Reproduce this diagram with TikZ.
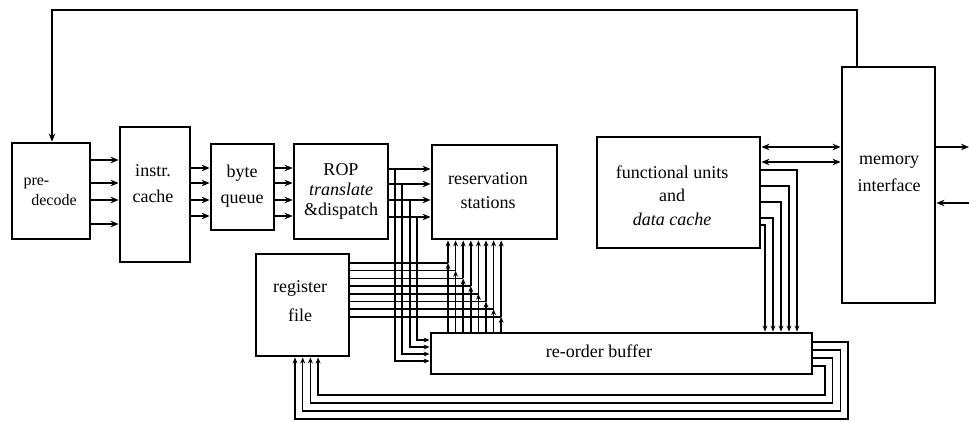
\documentclass[tikz,border=0pt]{standalone}
\usepackage{fontspec}
\setmainfont{Liberation Serif}
\usetikzlibrary{arrows.meta}

\tikzset{
  blk/.style={draw,line width=2.8pt,rectangle,inner sep=0pt},
  txt/.style={align=center,inner sep=0pt,font=\fontsize{18}{24}\selectfont},
  bus/.style={line width=1.5pt},
  sm/.style={-{Stealth[length=6pt,width=4.8pt]}},
}

\begin{document}
\begin{tikzpicture}[x=1pt,y=-1pt,>={Stealth[length=8pt,width=6.5pt]}]
    \useasboundingbox (0,0) rectangle (969,422);
    % blocks
    \node[blk,minimum width=78pt,minimum height=96pt] (pdec) at (51,191) {};
    \node[blk,minimum width=70pt,minimum height=135pt] (icache) at (155,194.5) {};
    \node[blk,minimum width=63pt,minimum height=86pt] (bq) at (242.5,187) {};
    \node[blk,minimum width=94pt,minimum height=95pt] (rop) at (341,191.5) {};
    \node[blk,minimum width=125pt,minimum height=94pt] (rs) at (494.5,192) {};
    \node[blk,minimum width=163pt,minimum height=111pt] (fu) at (678.5,192.5) {};
    \node[blk,minimum width=93pt,minimum height=236pt] (mem) at (888.5,185) {};
    \node[blk,minimum width=93pt,minimum height=102pt] (rf) at (302.5,305) {};
    \node[blk,minimum width=381pt,minimum height=41pt] (rob) at (621.5,353.5) {};
    % labels
    \node[txt,font=\fontsize{16}{20}\selectfont] (pdec-t) at (54,191.5) {pre-\hspace*{2.2em}\\decode};
    \node[txt,font=\fontsize{18}{26}\selectfont] (icache-t) at (153,184) {instr.\\cache};
    \node[txt,font=\fontsize{18}{26}\selectfont] (bq-t) at (242,186) {byte\\queue};
    \node[txt,font=\fontsize{18}{20}\selectfont] (rop-t) at (341,191.5) {ROP\\\textit{translate}\\\&dispatch};
    \node[txt] (rs-t) at (488,191) {reservation\\stations};
    \node[txt,font=\fontsize{18}{23.5}\selectfont] (fu-t) at (672,195.4) {functional units\\and\\\textit{data cache}};
    \node[txt,font=\fontsize{18}{27}\selectfont] (mem-t) at (889,174.3) {memory\\interface};
    \node[txt,font=\fontsize{18}{29}\selectfont] (rf-t) at (300,301.5) {register\\file};
    \node[txt] (rob-t) at (599,351) {re-order buffer};
    % fetch path
    \draw[bus,->] (mem.north -| 857,0) |- (52,10) -- (pdec.north -| 52,0);
    \foreach \y in {160,183,200,224}
        \draw[bus,->] (pdec.east |- 0,\y) -- (icache.west |- 0,\y);
    \foreach \y in {168,183,200,216} {
        \draw[bus,->] (icache.east |- 0,\y) -- (bq.west |- 0,\y);
        \draw[bus,->] (bq.east |- 0,\y) -- (rop.west |- 0,\y);
    }
    % dispatch to stations and re-order buffer
    \foreach \y/\x/\z in {169/395/361,184/402/354,200/410/347,217/417/340} {
        \draw[bus,->] (rop.east |- 0,\y) -- (rs.west |- 0,\y);
        \draw[bus,sm] (\x,\y) |- (rob.west |- 0,\z);
    }
    % operands from register file and re-order buffer
    \foreach \k in {0,...,7} {
        \pgfmathsetmacro{\bx}{448+7.6*\k}
        \pgfmathsetmacro{\by}{263+7.7*\k}
        \draw[bus] (rf.east |- 0,\by) -- (\bx,\by);
        \draw[bus,sm] (rob.north -| \bx,0) -- (\bx,\by);
        \draw[bus,sm] (\bx,\by) -- (rs.south -| \bx,0);
    }
    % results to re-order buffer
    \foreach \y/\x in {170/797,186/789,202/781,218/773,225/765}
        \draw[bus,sm] (fu.east |- 0,\y) -| (rob.north -| \x,0);
    % memory
    \foreach \y in {147,162}
        \draw[bus,<->] (fu.east |- 0,\y) -- (mem.west |- 0,\y);
    \coordinate (memout) at (969,147);
    \coordinate (memin) at (969,203);
    \draw[bus,->] (mem.east |- memout) -- (memout);
    \draw[bus,->] (memin) -- (mem.east |- memin);
    % retire to register file
    \foreach \k in {0,...,3} {
        \pgfmathsetmacro{\ey}{342+8*\k}
        \pgfmathsetmacro{\rx}{848-7.7*\k}
        \pgfmathsetmacro{\ly}{419-8*\k}
        \pgfmathsetmacro{\fx}{295+7.7*\k}
        \draw[bus,sm] (rob.east |- 0,\ey) -| (\rx,\ly) -| (rf.south -| \fx,0);
    }
\end{tikzpicture}
\end{document}
